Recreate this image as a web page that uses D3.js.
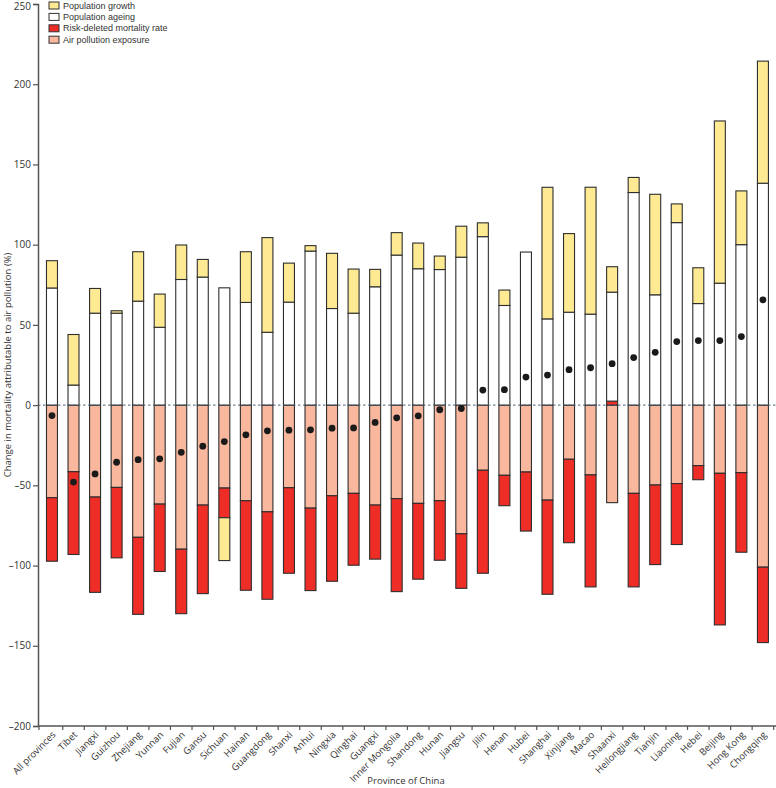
<!DOCTYPE html>
<html>
<head>
<meta charset="utf-8">
<script src="https://cdn.jsdelivr.net/npm/d3@7"></script>
<style>
html,body{margin:0;padding:0;background:#fff;}
svg{display:block;font-family:"Open Sans","Noto Sans",sans-serif;}
.legend text{font-family:"Liberation Sans",Arial,sans-serif;}
</style>
</head>
<body>
<svg id="chart" width="776" height="788"></svg>
<script>
const provinces = ["All provinces","Tibet","Jiangxi","Guizhou","Zhejiang","Yunnan","Fujian","Gansu","Sichuan","Hainan","Guangdong","Shanxi","Anhui","Ningxia","Qinghai","Guangxi","Inner Mongolia","Shandong","Hunan","Jiangsu","Jilin","Henan","Hubei","Shanghai","Xinjiang","Macao","Shaanxi","Heilongjiang","Tianjin","Liaoning","Hebei","Beijing","Hong Kong","Chongqing"];
const populationGrowth = [17,31.5,15.4,1.5,30.8,20.7,21.5,11,-26.7,31.6,59,24.3,3.4,34.4,27.5,10.85,14,16,8.4,19.3,8.6,9.6,0,82,49,79.1,15.85,9.4,62.65,11.65,22.3,101.1,33.5,76.1];
const populationAgeing = [73,12.5,57.3,57.3,64.8,48.5,78.3,79.8,73.1,64,45.4,64.2,96,60.2,57.3,73.75,93.5,85,84.5,92.2,105,62.1,95.4,53.75,57.9,56.7,67.9,132.5,68.75,113.75,63.3,76,100,138.3];
const riskDeletedMortality = [-39.6,-51.6,-59.4,-43.9,-48,-42,-40.2,-55.2,-18.5,-55.8,-54.5,-53.3,-51.4,-53.3,-44.8,-33.7,-57.95,-47.25,-37.1,-34,-64.2,-18.95,-36.8,-58.7,-52,-69.8,2.5,-58.3,-49.6,-38,-8.8,-94.5,-49.6,-47];
const airPollutionExposure = [-57.7,-41.5,-57.3,-51.3,-82.4,-61.7,-89.8,-62.3,-51.7,-59.6,-66.5,-51.5,-64.2,-56.5,-55,-62.3,-58.3,-61.25,-59.6,-80.2,-40.6,-43.75,-41.7,-59.2,-33.75,-43.5,-60.8,-55,-49.8,-48.9,-37.7,-42.5,-42.1,-101];
const netChange = [-6.5,-48,-42.9,-35.6,-34,-33.5,-29.4,-25.6,-22.7,-18.5,-16,-15.6,-15.4,-14.4,-14.2,-10.8,-7.9,-6.7,-2.9,-2.1,9.4,9.6,17.5,18.75,22.1,23.3,25.8,29.6,32.9,39.6,40.2,40.2,42.7,65.6];
const yTicks = [-200,-150,-100,-50,0,50,100,150,200,250];

const seriesKeys = ["air","risk","ageing","growth"];
const seriesLabels = {growth:"Population growth",ageing:"Population ageing",risk:"Risk-deleted mortality rate",air:"Air pollution exposure"};
const colors = {growth:"#FFEA94",ageing:"#FFFFFF",risk:"#EE2D26",air:"#F9B79E"};

const rows = provinces.map((p,i)=>({province:p,air:airPollutionExposure[i],risk:riskDeletedMortality[i],ageing:populationAgeing[i],growth:populationGrowth[i],net:netChange[i]}));

const svg = d3.select("#chart");
const x = d3.scaleBand().domain(provinces).range([41.2,773.7]).paddingInner(0.49).paddingOuter(0.245);
const y = d3.scaleLinear().domain([-200,250]).range([726,4]);
const step = x.step();

const stack = d3.stack().keys(seriesKeys).offset(d3.stackOffsetDiverging);
const stacked = stack(rows);

// bars
const g = svg.append("g");
stacked.forEach(s=>{
  g.append("g").selectAll("rect").data(s).join("rect")
    .attr("x", d=>x(d.data.province))
    .attr("width", x.bandwidth())
    .attr("y", d=>y(Math.max(d[0],d[1])))
    .attr("height", d=>Math.abs(y(d[0])-y(d[1])))
    .attr("fill", colors[s.key])
    .attr("stroke", "#2e2e2e")
    .attr("stroke-width", 1.1)
    .attr("display", d=>Math.abs(d[1]-d[0])<0.01?"none":null);
});

// zero line
svg.append("line")
  .attr("x1",38).attr("x2",776)
  .attr("y1",y(0)).attr("y2",y(0))
  .attr("stroke","#4a6373").attr("stroke-width",1)
  .attr("stroke-dasharray","2.5,2.5");

// dots
svg.append("g").selectAll("circle").data(rows).join("circle")
  .attr("cx", d=>x(d.province)+x.bandwidth()/2)
  .attr("cy", d=>y(d.net))
  .attr("r", 3.4)
  .attr("fill", "#1a1a1a");

// y axis
const yAxis = d3.axisLeft(y).tickValues(yTicks).tickSize(5).tickPadding(2)
  .tickFormat(d=> d<0 ? "\u2013"+Math.abs(d) : String(d));
const yg = svg.append("g").attr("transform","translate(38,0)").call(yAxis);
yg.attr("font-family",null);
yg.select(".domain").attr("stroke","#555").attr("stroke-width",1.5);
yg.selectAll(".tick line").attr("stroke","#555").attr("stroke-width",1.2);
yg.selectAll("text").attr("fill","#333").style("font-size","10px");
yg.selectAll(".tick").filter(d=>d===250).select("text").attr("dy","0.5em");

// x axis
svg.append("line").attr("x1",38).attr("x2",776).attr("y1",726).attr("y2",726)
  .attr("stroke","#555").attr("stroke-width",1.5);
const bounds = d3.range(provinces.length+1).map(i=> (i===0 ? 39 : x(provinces[i-1]) + x.bandwidth()/2 + step/2));
svg.append("g").selectAll("line").data(bounds).join("line")
  .attr("x1",d=>d).attr("x2",d=>d).attr("y1",726).attr("y2",730)
  .attr("stroke","#555").attr("stroke-width",1.2);
svg.append("g").selectAll("text").data(provinces).join("text")
  .attr("transform", d=>`translate(${x(d)+x.bandwidth()/2+2},${733}) rotate(-45)`)
  .attr("text-anchor","end")
  .attr("dy","0.35em")
  .attr("fill","#333")
  .style("font-size","9.5px")
  .text(d=>d);

// axis titles
svg.append("text")
  .attr("transform","translate(8,365) rotate(-90)")
  .attr("text-anchor","middle")
  .attr("dy","0.35em")
  .attr("fill","#333")
  .style("font-size","9.5px")
  .text("Change in mortality attributable to air pollution (%)");
svg.append("text")
  .attr("x",406).attr("y",784)
  .attr("text-anchor","middle")
  .attr("fill","#333")
  .style("font-size","9.5px")
  .text("Province of China");

// legend
const legendKeys = ["growth","ageing","risk","air"];
const lg = svg.append("g").attr("class","legend").selectAll("g").data(legendKeys).join("g")
  .attr("transform",(d,i)=>`translate(49,${5.5+i*11.4})`);
lg.append("rect").attr("x",0).attr("y",-3.5).attr("width",10).attr("height",7)
  .attr("fill",d=>colors[d]).attr("stroke","#333").attr("stroke-width",1);
lg.append("text").attr("x",14).attr("y",0).attr("dy","0.35em")
  .attr("fill","#333").style("font-size","9px").text(d=>seriesLabels[d]);
</script>
</body>
</html>
